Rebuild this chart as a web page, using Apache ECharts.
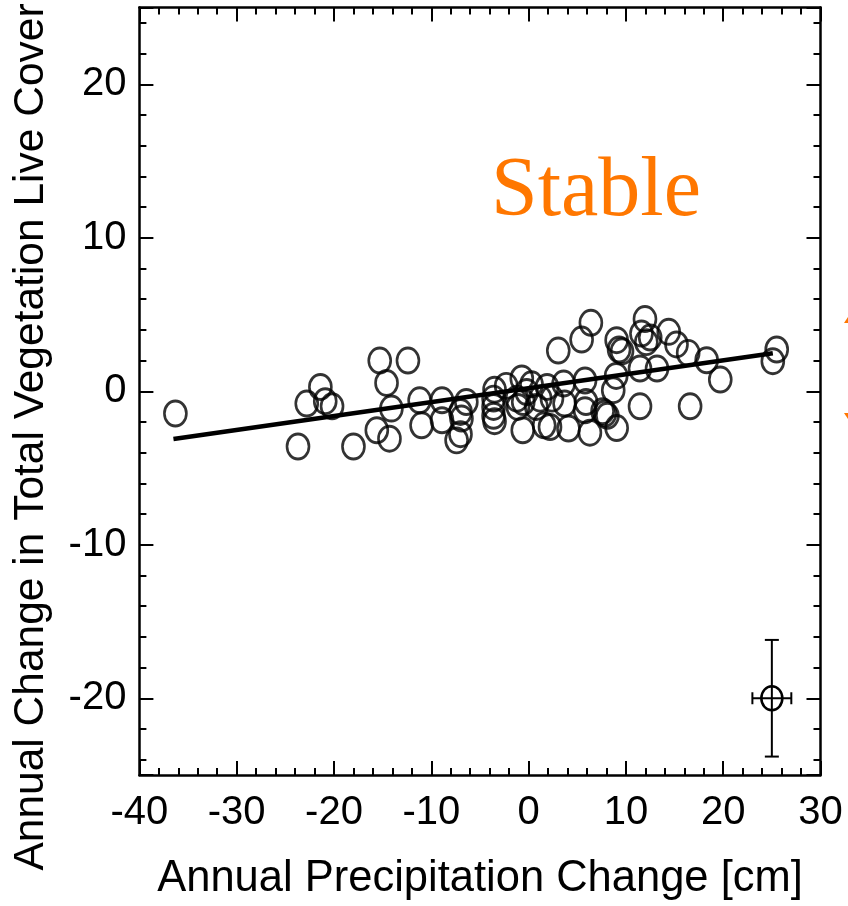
<!DOCTYPE html>
<html>
<head>
<meta charset="utf-8">
<script src="https://cdn.jsdelivr.net/npm/echarts@6/dist/echarts.min.js"></script>
<style>
  html, body { margin: 0; padding: 0; background: #fff; }
  #chart { width: 848px; height: 906px; }
</style>
</head>
<body>
<div id="chart"></div>
<script>
// precipitation change [cm] vs live cover change
const precipX = [
  -36.3, -23.7, -22.8, -21.4, -20.9, -20.2, -18.0, -15.3, -12.4, -14.6,
  -14.1, -15.6, -14.3, -11.2, -11.0, -8.9, -8.9, -7.0, -6.4, -6.9,
  -7.4, -7.0, -3.5, -3.6, -3.6, -3.6, -3.5, -2.3, -0.7, -0.55,
  -1.1, -0.6, 0.3, 1.2, 1.6, 1.9, 2.4, 2.2, 3.05, 3.7,
  3.6, 4.1, 5.8, 5.9, 5.8, 6.3, 7.6, 7.85, 8.1, 9.05,
  8.7, 9.0, 5.45, 6.4, 9.05, 9.3, 11.96, 11.6, 12.5, 12.1,
  14.4, 15.2, 16.4, 18.3, 19.7, 25.5, 25.1, 11.45, 16.6, 11.45,
  13.2, 0.8, -1.2, -0.2, 9.6
];
const coverY = [
  -1.45, -3.6, -0.8, 0.28, -0.65, -0.98, -3.6, 2.0, 2.0, 0.54,
  -1.13, -2.54, -3.09, -0.59, -2.22, -0.59, -1.89, -1.35, -0.7, -1.78,
  -3.2, -2.8, 0.1, -0.48, -1.02, -1.6, -1.95, 0.35, 0.83, -0.7,
  -1.02, -2.54, 0.45, -0.48, -2.22, 0.28, -0.48, -2.33, 2.65, -0.8,
  0.5, -2.43, 0.7, -0.7, -1.24, -2.7, -1.3, -1.45, -1.6, -2.4,
  0.07, 1.0, 3.37, 4.46, 3.33, 2.72, 4.7, 3.76, 3.5, 3.2,
  3.87, 3.05, 2.5, 2.02, 0.76, 2.72, 1.96, -0.98, -0.98, 1.48,
  1.48, -1.02, -0.48, -0.05, 2.6
];

// fitted line end points
const fitX = [-36.5, 25.1];
const fitY = [-3.11, 2.47];

// typical uncertainty marker: [x, y, xErr, yErr]
const errMark = [25, -20, 2.0, 3.8];

const xTicks = [-40, -30, -20, -10, 0, 10, 20, 30];

const points = precipX.map((x, i) => [x, coverY[i]]);
const fitLine = fitX.map((x, i) => [x, fitY[i]]);

const chart = echarts.init(document.getElementById('chart'));

const tickFont = { fontFamily: 'Liberation Sans', fontSize: 40, color: '#000' };
const axisBase = {
    axisLine: { show: true, onZero: false, lineStyle: { color: '#000', width: 2.5 } },
    axisTick: { show: true, inside: true, length: 14, lineStyle: { color: '#000', width: 2 } },
    minorTick: { show: true, splitNumber: 5, length: 7, lineStyle: { color: '#000', width: 2 } },
    splitLine: { show: false },
    minorSplitLine: { show: false },
};

const option = {
    backgroundColor: '#fff',
    animation: false,
    grid: { left: 139.4, right: 27.5, top: 7.5, bottom: 131, containLabel: false },
    xAxis: [
        {
            type: 'value', position: 'bottom', min: xTicks[0], max: xTicks[xTicks.length - 1], interval: 10,
            ...axisBase,
            axisLabel: { ...tickFont, margin: 18 },
        },
        {
            type: 'value', position: 'top', min: xTicks[0], max: xTicks[xTicks.length - 1], interval: 10,
            ...axisBase,
            axisLabel: { show: false },
        },
    ],
    yAxis: [
        {
            type: 'value', position: 'left', min: -25, max: 25, splitNumber: 5,
            ...axisBase,
            axisLabel: { ...tickFont, margin: 13, formatter: v => (v % 10 === 0 ? String(v) : '') },
        },
        {
            type: 'value', position: 'right', min: -25, max: 25, splitNumber: 5,
            ...axisBase,
            axisLabel: { show: false },
        },
    ],
    series: [
        {
            type: 'scatter',
            data: points,
            symbol: 'circle',
            symbolSize: [22, 25],
            itemStyle: { color: 'rgba(0,0,0,0)', borderColor: '#000', borderWidth: 2.8 },
            z: 3,
        },
        {
            type: 'line',
            data: fitLine,
            showSymbol: false,
            lineStyle: { color: '#000', width: 4.5 },
            z: 4,
        },
        {
            type: 'custom',
            data: [errMark],
            renderItem: (params, api) => {
                const x = api.value(0), y = api.value(1);
                const ex = api.value(2), ey = api.value(3);
                const l = api.coord([x - ex, y]);
                const r = api.coord([x + ex, y]);
                const t = api.coord([x, y + ey]);
                const b = api.coord([x, y - ey]);
                const c = api.coord([x, y]);
                const st = { stroke: '#000', lineWidth: 2 };
                return {
                    type: 'group',
                    children: [
                        { type: 'line', shape: { x1: l[0], y1: l[1], x2: r[0], y2: r[1] }, style: st },
                        { type: 'line', shape: { x1: t[0], y1: t[1], x2: b[0], y2: b[1] }, style: st },
                        { type: 'line', shape: { x1: l[0], y1: l[1] - 6, x2: l[0], y2: l[1] + 6 }, style: st },
                        { type: 'line', shape: { x1: r[0], y1: r[1] - 6, x2: r[0], y2: r[1] + 6 }, style: st },
                        { type: 'line', shape: { x1: t[0] - 7, y1: t[1], x2: t[0] + 7, y2: t[1] }, style: st },
                        { type: 'line', shape: { x1: b[0] - 7, y1: b[1], x2: b[0] + 7, y2: b[1] }, style: st },
                        { type: 'ellipse', shape: { cx: c[0], cy: c[1], rx: 10.5, ry: 12 }, style: { fill: 'none', stroke: '#000', lineWidth: 2.5 } },
                    ],
                };
            },
            z: 4,
        },
    ],
    graphic: [
        {
            type: 'text', x: 596, y: 193,
            style: { text: 'Stable', fontFamily: 'Liberation Serif', fontSize: 84, fill: '#FF7700', align: 'center', verticalAlign: 'middle' },
        },
        {
            type: 'text', x: 480, y: 879,
            style: { text: 'Annual Precipitation Change [cm]', fontFamily: 'Liberation Sans', fontSize: 43.5, fill: '#000', align: 'center', verticalAlign: 'middle' },
        },
        {
            type: 'text', x: 31, y: 437, rotation: Math.PI / 2,
            style: { text: 'Annual Change in Total Vegetation Live Cover', fontFamily: 'Liberation Sans', fontSize: 42.5, fill: '#000', align: 'center', verticalAlign: 'middle' },
        },
        // orange arrow heads cut off by the right edge
        {
            type: 'polygon', shape: { points: [[844, 323], [856, 305], [868, 323]] },
            style: { fill: '#FF7700' },
        },
        {
            type: 'polygon', shape: { points: [[844, 413], [868, 413], [856, 431]] },
            style: { fill: '#FF7700' },
        },
    ],
};

chart.setOption(option);
</script>
</body>
</html>
